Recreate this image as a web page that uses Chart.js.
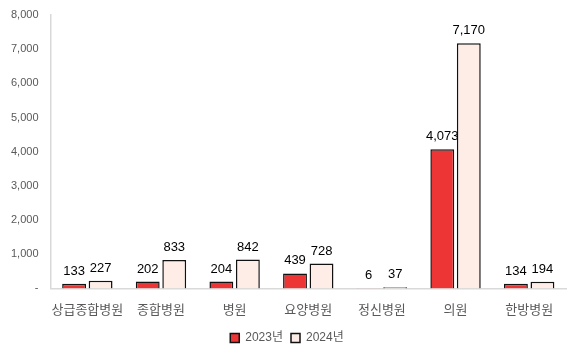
<html>
    <head>
        <script src="https://cdn.jsdelivr.net/npm/chart.js@4/dist/chart.umd.min.js"></script>
        <style>
            body { margin: 0; background: #fff; }
            .box { width: 581px; height: 356px; }
        </style>
    </head>
    <body>
        <div class="box"><canvas id="mainchart"></canvas></div>
        <script>
            const categories = ['상급종합병원', '종합병원', '병원', '요양병원', '정신병원', '의원', '한방병원']
            const values2023 = [133, 202, 204, 439, 6, 4073, 134]
            const values2024 = [227, 833, 842, 728, 37, 7170, 194]
            const seriesLabels = ['2023년', '2024년']

            const fontFamily = "'Liberation Sans', Arial, 'Noto Sans CJK KR', sans-serif"

            // value labels above each bar
            const barLabels = {
                id: 'barLabels',
                afterDatasetsDraw(chart) {
                    const c = chart.ctx
                    c.save()
                    c.font = '13px ' + fontFamily
                    c.fillStyle = '#000'
                    c.textAlign = 'center'
                    c.textBaseline = 'bottom'
                    chart.data.datasets.forEach((ds, di) => {
                        chart.getDatasetMeta(di).data.forEach((bar, i) => {
                            c.fillText(ds.data[i].toLocaleString('en-US'), bar.x, bar.y - 6)
                        })
                    })
                    c.restore()
                }
            }

            const ctx = document.getElementById('mainchart').getContext('2d')
            const mainchart = new Chart(ctx, {
                type: 'bar',
                data: {
                    labels: categories,
                    datasets: [
                        {
                            label: seriesLabels[0],
                            data: values2023,
                            backgroundColor: '#ee3535',
                            borderColor: '#111',
                            borderWidth: 1.5
                        },
                        {
                            label: seriesLabels[1],
                            data: values2024,
                            backgroundColor: '#fdede6',
                            borderColor: '#111',
                            borderWidth: 1.5
                        }
                    ]
                },
                options: {
                    responsive: true,
                    maintainAspectRatio: false,
                    animation: false,
                    layout: { padding: { top: 15, right: 15, left: 8, bottom: 2 } },
                    datasets: { bar: { categoryPercentage: 0.72, barPercentage: 0.9 } },
                    scales: {
                        x: {
                            grid: { display: false },
                            border: { color: '#d9d9d9', width: 1.5 },
                            ticks: {
                                color: '#595959',
                                maxRotation: 0,
                                autoSkip: false,
                                padding: 6,
                                font: { size: 13, family: fontFamily }
                            }
                        },
                        y: {
                            min: 0,
                            max: 8000,
                            grid: { display: false, drawTicks: true, tickLength: 9 },
                            border: { color: '#d9d9d9', width: 1.5 },
                            ticks: {
                                stepSize: 1000,
                                color: '#595959',
                                padding: 3,
                                font: { size: 11, family: fontFamily },
                                callback: (v) => v === 0 ? '-' : v.toLocaleString('en-US')
                            }
                        }
                    },
                    plugins: {
                        tooltip: { enabled: false },
                        legend: {
                            position: 'bottom',
                            labels: {
                                color: '#595959',
                                boxWidth: 9,
                                boxHeight: 9,
                                padding: 8,
                                font: { size: 12, family: fontFamily }
                            }
                        }
                    }
                },
                plugins: [barLabels]
            })
        </script>
    </body>
</html>
